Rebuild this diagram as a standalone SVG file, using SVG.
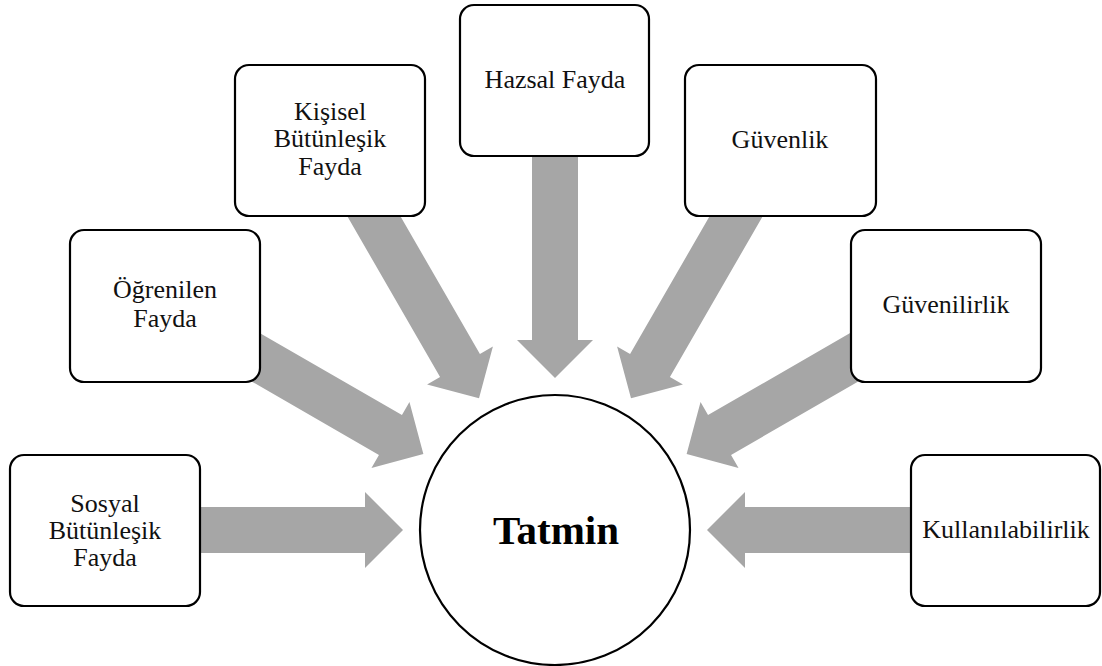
<svg xmlns="http://www.w3.org/2000/svg" width="1102" height="666" viewBox="0 0 1102 666">
<style>
.box{fill:#fff;stroke:#000;stroke-width:2.2}
.lbl{font-family:"Liberation Serif","Times New Roman",serif;font-size:26px;fill:#111;text-anchor:middle}
.title{font-family:"Liberation Serif","Times New Roman",serif;font-size:41px;font-weight:bold;fill:#000;text-anchor:middle}
.arr{fill:#a6a6a6}
</style>
<defs>
<polygon id="arrow" points="-400,-23 -190,-23 -190,-38 -152,0 -190,38 -190,23 -400,23"/>
</defs>
<rect width="1102" height="666" fill="#fff"/>
<g id="connectors" class="arr">
<use href="#arrow" transform="translate(555,530) rotate(0)"/>
<use href="#arrow" transform="translate(555,530) rotate(30)"/>
<use href="#arrow" transform="translate(555,530) rotate(60)"/>
<use href="#arrow" transform="translate(555,530) rotate(90)"/>
<use href="#arrow" transform="translate(555,530) rotate(120)"/>
<use href="#arrow" transform="translate(555,530) rotate(150)"/>
<use href="#arrow" transform="translate(555,530) rotate(180)"/>
</g>
<g font-family="Liberation Serif, Times New Roman, serif">
<g id="sosyal">
<rect class="box" x="10" y="455" width="190" height="151" rx="14"/>
<text class="lbl" x="105" y="512">Sosyal</text>
<text class="lbl" x="105" y="539">Bütünleşik</text>
<text class="lbl" x="105" y="566">Fayda</text>
</g>
<g id="ogrenilen">
<rect class="box" x="70" y="230" width="190" height="152" rx="14"/>
<text class="lbl" x="165" y="298">Öğrenilen</text>
<text class="lbl" x="165" y="327">Fayda</text>
</g>
<g id="kisisel">
<rect class="box" x="235" y="65" width="190" height="151" rx="14"/>
<text class="lbl" x="330" y="120">Kişisel</text>
<text class="lbl" x="330" y="147">Bütünleşik</text>
<text class="lbl" x="330" y="175">Fayda</text>
</g>
<g id="hazsal">
<rect class="box" x="460" y="5" width="189" height="151" rx="14"/>
<text class="lbl" x="555" y="88">Hazsal Fayda</text>
</g>
<g id="guvenlik">
<rect class="box" x="685" y="65" width="191" height="151" rx="14"/>
<text class="lbl" x="780" y="148">Güvenlik</text>
</g>
<g id="guvenilirlik">
<rect class="box" x="851" y="230" width="190" height="152" rx="14"/>
<text class="lbl" x="946" y="313">Güvenilirlik</text>
</g>
<g id="kullanilabilirlik">
<rect class="box" x="911" y="455" width="189" height="151" rx="14"/>
<text class="lbl" x="1006" y="538">Kullanılabilirlik</text>
</g>
<g id="tatmin">
<circle cx="555" cy="530" r="135" fill="#fff" stroke="#000" stroke-width="2.2"/>
<text class="title" x="556" y="544">Tatmin</text>
</g>
</g>
</svg>
